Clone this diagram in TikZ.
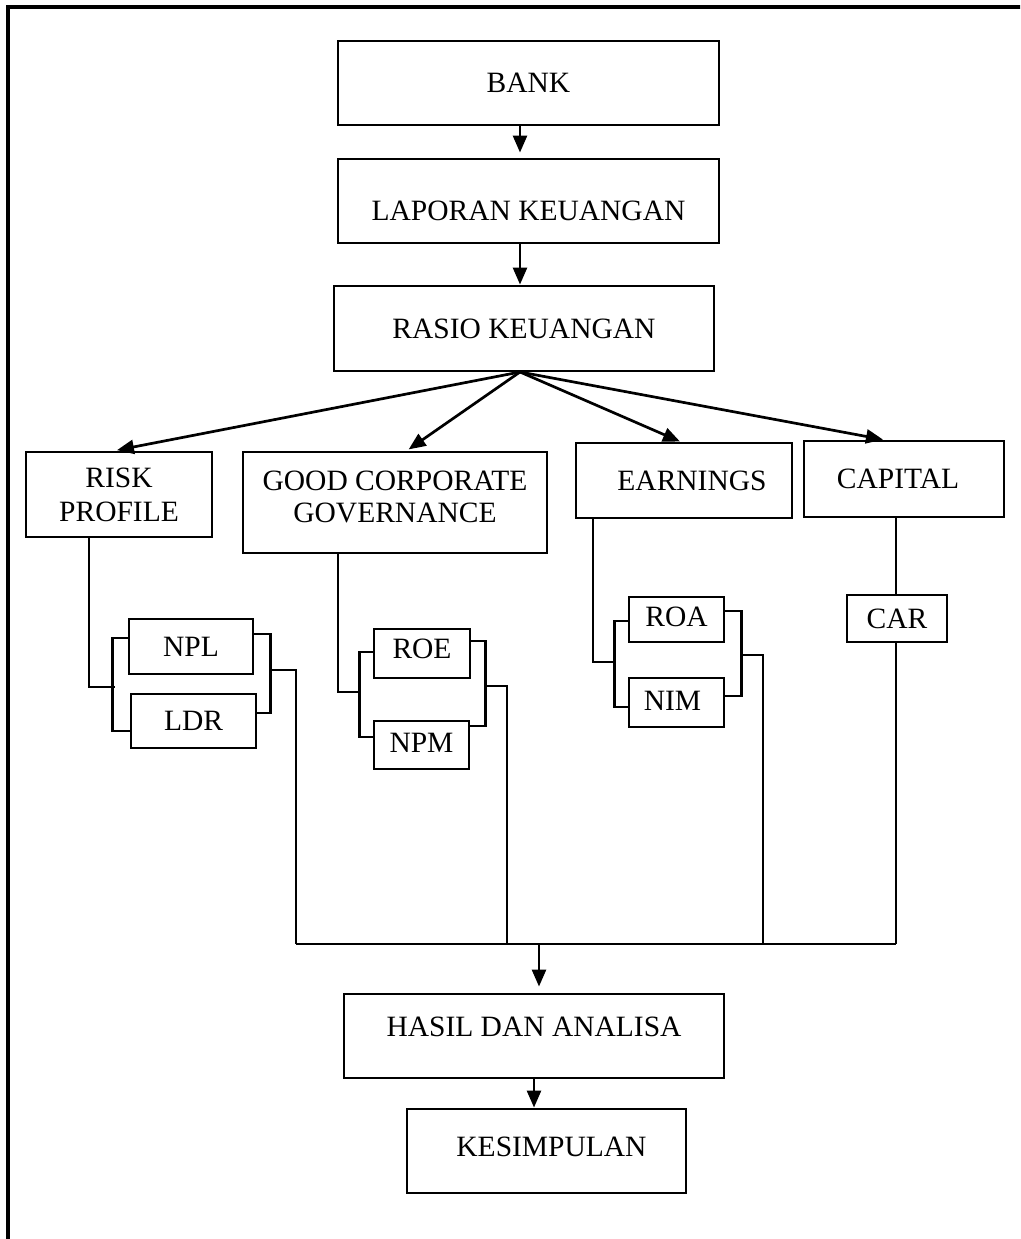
\documentclass[tikz,border=0pt]{standalone}
\usepackage{fontspec}
\setmainfont{Liberation Serif}
\usetikzlibrary{arrows.meta}
\begin{document}
\begin{tikzpicture}[x=1pt,y=-1pt,
  boxbase/.style={draw, line width=2.9pt, inner sep=0pt, font=\fontsize{29.5}{34}\selectfont},
  box/.style={boxbase, text height=19.5pt, text depth=0pt},
  conn/.style={line width=2.6pt},
  arr/.style={line width=2.7pt, -{Triangle[length=17pt,width=14pt]}},
  frame/.style={line width=3.2pt}]
\useasboundingbox (0,0) rectangle (1020,1239);
\clip (0,0) rectangle (1020,1239);
\draw[frame] (8,1260) -- (8,7) -- (1040,7);

% boxes
\node[box, minimum width=381pt, minimum height=84pt] (bank) at (528.5,83) {BANK};
\node[box, minimum width=381pt, minimum height=84pt, text height=39.5pt] (lap) at (528.5,201) {LAPORAN KEUANGAN};
\node[box, minimum width=380pt, minimum height=85pt] (rasio) at (524,328.5) {RASIO KEUANGAN};
\node[boxbase, align=center, minimum width=186pt, minimum height=85pt] (risk) at (119,494.5) {RISK\\PROFILE};
\node[boxbase, align=center, minimum width=304pt, minimum height=101pt] (gcg) at (395,502.5) {GOOD CORPORATE\\[-2pt]GOVERNANCE\rule[-11pt]{0pt}{11pt}};
\node[box, minimum width=216pt, minimum height=75pt] (earn) at (684,480.5) {\hspace*{16pt}EARNINGS};
\node[box, minimum width=200pt, minimum height=76pt] (cap) at (904,479) {CAPITAL\hspace*{12pt}};
\node[box, minimum width=124pt, minimum height=55pt] (npl) at (191,646.5) {NPL};
\node[box, minimum width=125pt, minimum height=54pt] (ldr) at (193.5,721) {LDR};
\node[box, minimum width=96pt, minimum height=49pt, text depth=10pt] (roe) at (422,653.5) {ROE};
\node[box, minimum width=95pt, minimum height=48pt, text depth=4pt] (npm) at (421.5,745) {NPM};
\node[box, minimum width=95pt, minimum height=45pt, text depth=6pt] (roa) at (676.5,619.5) {ROA};
\node[box, minimum width=95pt, minimum height=49pt, text depth=4pt] (nim) at (676.5,702.5) {NIM\hspace*{8pt}};
\node[box, minimum width=100pt, minimum height=47pt] (car) at (897,618.5) {CAR};
\node[box, minimum width=380pt, minimum height=84pt, text depth=18pt] (hasil) at (534,1036) {HASIL DAN ANALISA};
\node[box, minimum width=279pt, minimum height=84pt, text depth=8pt] (kes) at (546.5,1151) {\hspace*{10pt}KESIMPULAN};

% junction coordinates
\coordinate (fan) at (520,372);
\coordinate (bl) at (296,944);
\coordinate (gb) at (507,944);
\coordinate (eb) at (763,944);
\coordinate (br) at (896,944);
\coordinate (hj) at (539,944);
\coordinate (rk) at (89,687);
\coordinate (rr) at (269,670);
\coordinate (gk) at (338,692);
\coordinate (gr) at (484,686);
\coordinate (ek) at (593,662);
\coordinate (er) at (740,655);

% top chain
\draw[arr, shorten >=5pt] (bank.south -| fan) -- (lap.north -| fan);
\draw[arr] (lap.south -| fan) -- (rasio.north -| fan);

% fan
\draw[arr, shorten >=2pt] (fan) -- ([xshift=-4pt]risk.north);
\draw[arr, shorten >=2pt] (fan) -- ([xshift=12pt]gcg.north);
\draw[arr] (fan) -- ([xshift=-4pt]earn.north);
\draw[arr] (fan) -- ([xshift=-21pt]cap.north);

% risk profile group
\draw[conn] (rk |- risk.south) -- (rk) -- ++(26,0);
\draw[conn] ([yshift=8.5pt]npl.west) -- ++(-15,0) |- ([yshift=-10pt]ldr.west);
\draw[conn] ([yshift=12.5pt]npl.east) -- ++(16,0) |- ([yshift=8pt]ldr.east);
\draw[conn] (rr) -| (bl);

% gcg group
\draw[conn] (gk |- gcg.south) -- (gk) -- ++(23,0);
\draw[conn] ([yshift=1.5pt]roe.west) -- ++(-13,0) |- ([yshift=8pt]npm.west);
\draw[conn] ([yshift=12.5pt]roe.east) -- ++(14,0) |- ([yshift=19pt]npm.east);
\draw[conn] (gr) -| (gb);

% earnings group
\draw[conn] (ek |- earn.south) -- (ek) -- ++(23,0);
\draw[conn] ([yshift=-1.5pt]roa.west) -- ++(-13,0) |- ([yshift=-4.5pt]nim.west);
\draw[conn] ([yshift=8.5pt]roa.east) -- ++(16,0) |- ([yshift=6.5pt]nim.east);
\draw[conn] (er) -| (eb);

% capital group
\draw[conn] (br |- cap.south) -- (br |- car.north);
\draw[conn] (br |- car.south) -- (br);

% bottom bus and final chain
\draw[conn] (bl) -- (br);
\draw[arr, shorten >=6pt] (hj) -- (hj |- hasil.north);
\draw[arr] (hasil.south) -- (hasil.south |- kes.north);
\end{tikzpicture}
\end{document}
